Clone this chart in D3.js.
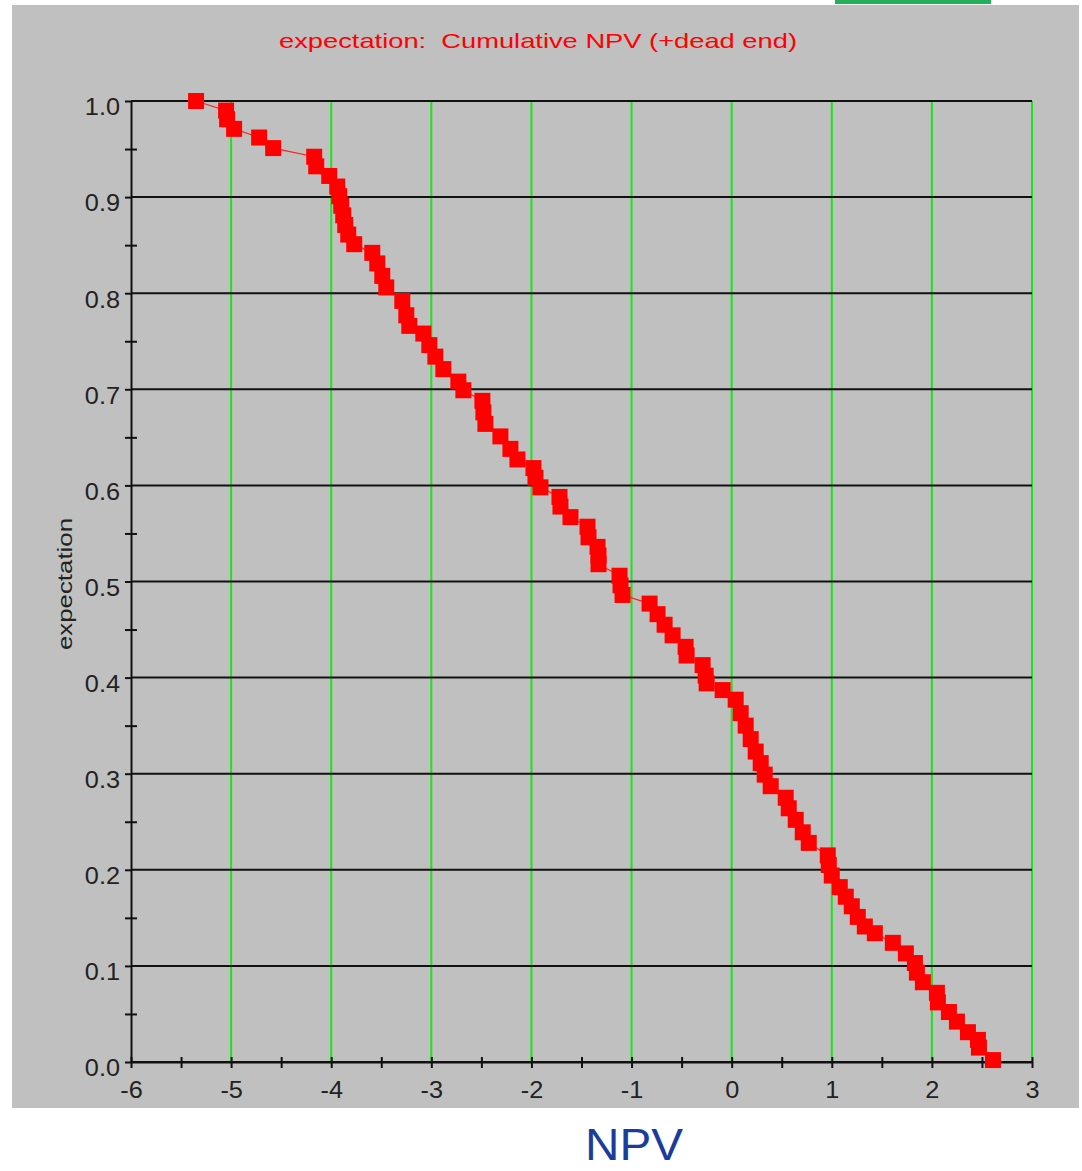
<!DOCTYPE html>
<html>
<head>
<meta charset="utf-8">
<script src="https://d3js.org/d3.v7.min.js"></script>
<style>
  body { margin: 0; background: #fff; }
  text { font-family: "Liberation Sans", Arial, sans-serif; }
</style>
</head>
<body>
<script>
// cumulative NPV points
var npv = [-5.35, -5.05, -5.04, -4.97, -4.72, -4.58, -4.17, -4.15, -4.02, -3.94,
           -3.92, -3.90, -3.88, -3.86, -3.83, -3.77, -3.59, -3.54, -3.49, -3.45,
           -3.29, -3.25, -3.22, -3.08, -3.02, -2.96, -2.88, -2.73, -2.68, -2.49,
           -2.48, -2.46, -2.31, -2.21, -2.14, -1.98, -1.96, -1.91, -1.72, -1.71,
           -1.61, -1.44, -1.43, -1.34, -1.33, -1.33, -1.12, -1.11, -1.09, -0.82,
           -0.74, -0.67, -0.59, -0.46, -0.45, -0.29, -0.26, -0.25, -0.09, 0.04,
           0.09, 0.14, 0.19, 0.24, 0.29, 0.33, 0.39, 0.54, 0.57, 0.64,
           0.71, 0.77, 0.96, 0.97, 1.00, 1.08, 1.14, 1.20, 1.26, 1.33,
           1.43, 1.61, 1.74, 1.83, 1.85, 1.91, 2.05, 2.06, 2.17, 2.25,
           2.36, 2.46, 2.47, 2.61];
var expectation = [1.000, 0.990, 0.981, 0.971, 0.962, 0.951, 0.942, 0.932, 0.922, 0.911,
                   0.901, 0.891, 0.881, 0.871, 0.861, 0.851, 0.842, 0.831, 0.818, 0.806,
                   0.792, 0.777, 0.766, 0.758, 0.746, 0.734, 0.721, 0.708, 0.699, 0.688,
                   0.676, 0.664, 0.651, 0.638, 0.627, 0.618, 0.608, 0.598, 0.588, 0.578,
                   0.567, 0.557, 0.546, 0.536, 0.527, 0.518, 0.506, 0.496, 0.486, 0.477,
                   0.466, 0.455, 0.444, 0.432, 0.423, 0.413, 0.402, 0.394, 0.387, 0.377,
                   0.363, 0.350, 0.336, 0.323, 0.311, 0.299, 0.287, 0.275, 0.264, 0.252,
                   0.239, 0.228, 0.215, 0.205, 0.194, 0.182, 0.172, 0.162, 0.151, 0.141,
                   0.134, 0.124, 0.113, 0.103, 0.093, 0.083, 0.072, 0.062, 0.052, 0.042,
                   0.031, 0.023, 0.015, 0.002];

var xTicks = [-6, -5, -4, -3, -2, -1, 0, 1, 2, 3];
var xMinor = [-5.5, -4.5, -3.5, -2.5, -1.5, -0.5, 0.5, 1.5, 2.5];
var yTicks = [0, 0.1, 0.2, 0.3, 0.4, 0.5, 0.6, 0.7, 0.8, 0.9, 1.0];
var yMinor = [0.05, 0.15, 0.25, 0.35, 0.45, 0.55, 0.65, 0.75, 0.85, 0.95];

var title = "expectation:  Cumulative NPV (+dead end)";
var yLabel = "expectation";
var xLabel = "NPV";

var W = 1082, H = 1171;
var svg = d3.select("body").append("svg").attr("width", W).attr("height", H);

var x = d3.scaleLinear().domain([-6, 3]).range([131, 1032]);
var y = d3.scaleLinear().domain([0, 1]).range([1062, 101]);

// panel
svg.append("rect").attr("x", 12).attr("y", 5).attr("width", 1067).attr("height", 1103).attr("fill", "#c0c0c0");
svg.append("rect").attr("x", 835).attr("y", 0).attr("width", 156).attr("height", 4).attr("fill", "#22b05a");

// title
svg.append("text")
    .attr("x", 538).attr("y", 48)
    .attr("text-anchor", "middle")
    .attr("fill", "#ff0000")
    .style("font-size", "21px")
    .style("white-space", "pre")
    .attr("textLength", 518).attr("lengthAdjust", "spacingAndGlyphs")
    .text(title);

// vertical green grid
svg.append("g").selectAll("line")
    .data(xTicks.slice(1))
    .enter().append("line")
    .attr("x1", function(d) { return x(d); })
    .attr("x2", function(d) { return x(d); })
    .attr("y1", y(1)).attr("y2", y(0))
    .attr("stroke", "#19e619").attr("stroke-width", 2);

// horizontal black grid
svg.append("g").selectAll("line")
    .data(yTicks)
    .enter().append("line")
    .attr("x1", x(-6)).attr("x2", x(3))
    .attr("y1", function(d) { return y(d); })
    .attr("y2", function(d) { return y(d); })
    .attr("stroke", "#111").attr("stroke-width", 2);

// left axis
var yAxis = svg.append("g").attr("transform", "translate(" + x(-6) + ",0)")
    .call(d3.axisLeft(y).tickValues(yTicks).tickSizeInner(6).tickSizeOuter(0).tickPadding(5)
        .tickFormat(d3.format(".1f")));
var yMin = svg.append("g").attr("transform", "translate(" + x(-6) + ",0)")
    .call(d3.axisLeft(y).tickValues(yMinor).tickSize(6).tickFormat(""));
yMin.select(".domain").remove();
yMin.selectAll(".tick line").attr("x1", 6);

// bottom axis
var xAxis = svg.append("g").attr("transform", "translate(0," + y(0) + ")")
    .call(d3.axisBottom(x).tickValues(xTicks).tickSizeInner(6).tickSizeOuter(0).tickPadding(14)
        .tickFormat(function(d) { return String(d); }));
var xMin = svg.append("g").attr("transform", "translate(0," + y(0) + ")")
    .call(d3.axisBottom(x).tickValues(xMinor).tickSize(6).tickFormat(""));
xMin.select(".domain").remove();
xAxis.selectAll(".tick line").attr("y1", -5);
xMin.selectAll(".tick line").attr("y1", -5);

[yAxis, yMin, xAxis, xMin].forEach(function(g) {
    g.selectAll(".domain").attr("stroke", "#111").attr("stroke-width", 2);
    g.selectAll(".tick line").attr("stroke", "#111").attr("stroke-width", 2);
});

yAxis.selectAll(".tick text").attr("dy", "0.6em");
[yAxis, xAxis].forEach(function(g) {
    g.selectAll(".tick text")
        .attr("fill", "#222")
        .style("font-size", "23px")
        .style("font-family", "'Liberation Sans', Arial, sans-serif")
        .each(function() {
            var len = this.getComputedTextLength();
            d3.select(this).attr("textLength", len * 1.1).attr("lengthAdjust", "spacingAndGlyphs");
        });
});

// y label
svg.append("text")
    .attr("transform", "translate(72,584) rotate(-90)")
    .attr("text-anchor", "middle")
    .attr("fill", "#222")
    .style("font-size", "20px")
    .attr("textLength", 132).attr("lengthAdjust", "spacingAndGlyphs")
    .text(yLabel);

// data
var pts = npv.map(function(v, i) { return [v, expectation[i]]; });

svg.append("path")
    .datum(pts)
    .attr("fill", "none")
    .attr("stroke", "#ff2020")
    .attr("stroke-width", 1.2)
    .attr("d", d3.line().x(function(d) { return x(d[0]); }).y(function(d) { return y(d[1]); }));

var sq = 16;
svg.append("g").selectAll("rect")
    .data(pts)
    .enter().append("rect")
    .attr("x", function(d) { return x(d[0]) - sq / 2; })
    .attr("y", function(d) { return y(d[1]) - sq / 2; })
    .attr("width", sq).attr("height", sq)
    .attr("fill", "#ff0000");

// x label under panel
svg.append("text")
    .attr("x", 634).attr("y", 1160)
    .attr("text-anchor", "middle")
    .attr("fill", "#1a3c9c")
    .style("font-size", "44px")
    .attr("textLength", 98).attr("lengthAdjust", "spacingAndGlyphs")
    .text(xLabel);
</script>
</body>
</html>
